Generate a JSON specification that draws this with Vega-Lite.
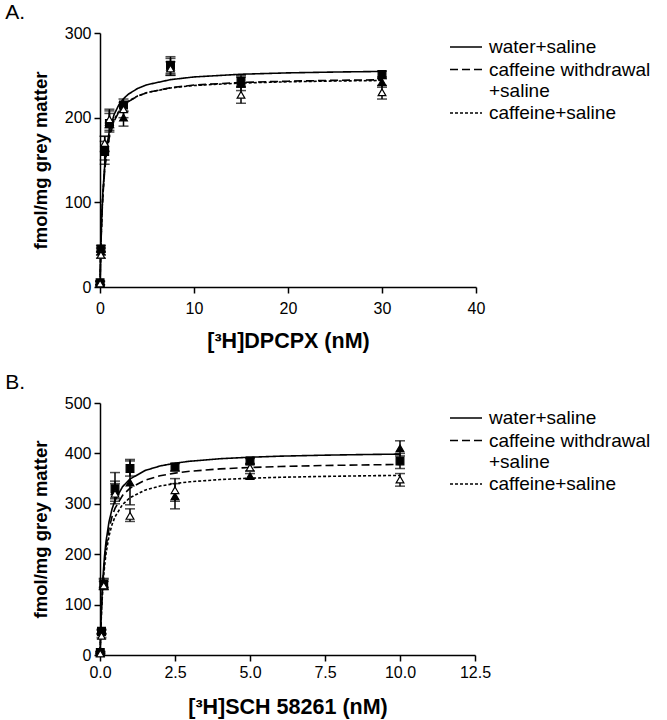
{
  "$schema": "https://vega.github.io/schema/vega-lite/v6.json",
  "padding": {"left": 5, "top": 2, "right": 5, "bottom": 2},
  "background": "white",
  "config": {
    "font": "Liberation Sans",
    "view": {"stroke": null},
    "axis": {"grid": false, "domainColor": "black", "domainWidth": 1.5, "tickColor": "black", "tickWidth": 1.5, "tickSize": 6, "labelColor": "black", "labelFontSize": 16, "labelFont": "Liberation Sans", "titleFont": "Liberation Sans", "titleFontSize": 18.5, "titleFontWeight": "bold", "titleColor": "black", "labelPadding": 3, "labelFlush": false},
    "axisX": {"titleFontSize": 21.5},
    "legend": {"labelFont": "Liberation Sans", "labelFontSize": 19, "labelColor": "black", "symbolType": "M-1.6,0L1.6,0", "symbolStrokeColor": "black", "symbolStrokeWidth": 1.5, "symbolSize": 400, "labelOffset": 12, "rowPadding": 1.5, "labelLimit": 300},
    "title": {"font": "Liberation Sans", "fontSize": 21, "fontWeight": "normal", "color": "black", "anchor": "start", "frame": "bounds"}
  },
  "datasets": {
    "ptsA": [
      {"x": 0.01, "grp": "water+saline", "v": 5, "lo": 3, "hi": 7},
      {"x": 0.1, "grp": "water+saline", "v": 45, "lo": 41, "hi": 49},
      {"x": 0.5, "grp": "water+saline", "v": 160, "lo": 150, "hi": 172},
      {"x": 1, "grp": "water+saline", "v": 193, "lo": 183, "hi": 205},
      {"x": 2.5, "grp": "water+saline", "v": 215, "lo": 207, "hi": 222},
      {"x": 7.5, "grp": "water+saline", "v": 262, "lo": 252, "hi": 272},
      {"x": 15, "grp": "water+saline", "v": 243, "lo": 236, "hi": 250},
      {"x": 30, "grp": "water+saline", "v": 251, "lo": 246, "hi": 255},
      {"x": 0.01, "grp": "caffeine withdrawal+saline", "v": 5, "lo": 3, "hi": 7},
      {"x": 0.1, "grp": "caffeine withdrawal+saline", "v": 42, "lo": 38, "hi": 46},
      {"x": 0.5, "grp": "caffeine withdrawal+saline", "v": 165, "lo": 145, "hi": 178},
      {"x": 1, "grp": "caffeine withdrawal+saline", "v": 195, "lo": 185, "hi": 210},
      {"x": 2.5, "grp": "caffeine withdrawal+saline", "v": 200, "lo": 190, "hi": 208},
      {"x": 7.5, "grp": "caffeine withdrawal+saline", "v": 260, "lo": 250, "hi": 270},
      {"x": 15, "grp": "caffeine withdrawal+saline", "v": 240, "lo": 232, "hi": 248},
      {"x": 30, "grp": "caffeine withdrawal+saline", "v": 242, "lo": 236, "hi": 248},
      {"x": 0.01, "grp": "caffeine+saline", "v": 4, "lo": 2, "hi": 6},
      {"x": 0.1, "grp": "caffeine+saline", "v": 38, "lo": 34, "hi": 42},
      {"x": 0.5, "grp": "caffeine+saline", "v": 170, "lo": 160, "hi": 178},
      {"x": 1, "grp": "caffeine+saline", "v": 198, "lo": 188, "hi": 208},
      {"x": 2.5, "grp": "caffeine+saline", "v": 210, "lo": 200, "hi": 218},
      {"x": 7.5, "grp": "caffeine+saline", "v": 258, "lo": 250, "hi": 266},
      {"x": 15, "grp": "caffeine+saline", "v": 227, "lo": 217, "hi": 237},
      {"x": 30, "grp": "caffeine+saline", "v": 230, "lo": 222, "hi": 238}
    ],
    "curveA": [
      {"x": 0, "group": "water+saline", "v": 0},
      {"x": 0.05, "group": "water+saline", "v": 28.7},
      {"x": 0.1, "group": "water+saline", "v": 51.6},
      {"x": 0.2, "group": "water+saline", "v": 86},
      {"x": 0.3, "group": "water+saline", "v": 110.6},
      {"x": 0.5, "group": "water+saline", "v": 143.3},
      {"x": 0.75, "group": "water+saline", "v": 168.3},
      {"x": 1, "group": "water+saline", "v": 184.3},
      {"x": 1.5, "group": "water+saline", "v": 203.7},
      {"x": 2, "group": "water+saline", "v": 215},
      {"x": 2.5, "group": "water+saline", "v": 222.4},
      {"x": 3, "group": "water+saline", "v": 227.6},
      {"x": 4, "group": "water+saline", "v": 234.5},
      {"x": 5, "group": "water+saline", "v": 238.9},
      {"x": 7.5, "group": "water+saline", "v": 244.9},
      {"x": 10, "group": "water+saline", "v": 248.1},
      {"x": 15, "group": "water+saline", "v": 251.3},
      {"x": 20, "group": "water+saline", "v": 252.9},
      {"x": 25, "group": "water+saline", "v": 253.9},
      {"x": 30, "group": "water+saline", "v": 254.6},
      {"x": 0, "group": "caffeine withdrawal+saline", "v": 0},
      {"x": 0.05, "group": "caffeine withdrawal+saline", "v": 27.6},
      {"x": 0.1, "group": "caffeine withdrawal+saline", "v": 49.6},
      {"x": 0.2, "group": "caffeine withdrawal+saline", "v": 82.7},
      {"x": 0.3, "group": "caffeine withdrawal+saline", "v": 106.3},
      {"x": 0.5, "group": "caffeine withdrawal+saline", "v": 137.8},
      {"x": 0.75, "group": "caffeine withdrawal+saline", "v": 161.7},
      {"x": 1, "group": "caffeine withdrawal+saline", "v": 177.1},
      {"x": 1.5, "group": "caffeine withdrawal+saline", "v": 195.8},
      {"x": 2, "group": "caffeine withdrawal+saline", "v": 206.7},
      {"x": 2.5, "group": "caffeine withdrawal+saline", "v": 213.8},
      {"x": 3, "group": "caffeine withdrawal+saline", "v": 218.8},
      {"x": 4, "group": "caffeine withdrawal+saline", "v": 225.5},
      {"x": 5, "group": "caffeine withdrawal+saline", "v": 229.6},
      {"x": 7.5, "group": "caffeine withdrawal+saline", "v": 235.4},
      {"x": 10, "group": "caffeine withdrawal+saline", "v": 238.5},
      {"x": 15, "group": "caffeine withdrawal+saline", "v": 241.6},
      {"x": 20, "group": "caffeine withdrawal+saline", "v": 243.1},
      {"x": 25, "group": "caffeine withdrawal+saline", "v": 244.1},
      {"x": 30, "group": "caffeine withdrawal+saline", "v": 244.7},
      {"x": 0, "group": "caffeine+saline", "v": 0},
      {"x": 0.05, "group": "caffeine+saline", "v": 28.7},
      {"x": 0.1, "group": "caffeine+saline", "v": 51.5},
      {"x": 0.2, "group": "caffeine+saline", "v": 85.2},
      {"x": 0.3, "group": "caffeine+saline", "v": 109},
      {"x": 0.5, "group": "caffeine+saline", "v": 140.3},
      {"x": 0.75, "group": "caffeine+saline", "v": 163.9},
      {"x": 1, "group": "caffeine+saline", "v": 179},
      {"x": 1.5, "group": "caffeine+saline", "v": 197.1},
      {"x": 2, "group": "caffeine+saline", "v": 207.6},
      {"x": 2.5, "group": "caffeine+saline", "v": 214.4},
      {"x": 3, "group": "caffeine+saline", "v": 219.2},
      {"x": 4, "group": "caffeine+saline", "v": 225.6},
      {"x": 5, "group": "caffeine+saline", "v": 229.6},
      {"x": 7.5, "group": "caffeine+saline", "v": 235.1},
      {"x": 10, "group": "caffeine+saline", "v": 238},
      {"x": 15, "group": "caffeine+saline", "v": 240.9},
      {"x": 20, "group": "caffeine+saline", "v": 242.4},
      {"x": 25, "group": "caffeine+saline", "v": 243.3},
      {"x": 30, "group": "caffeine+saline", "v": 243.9}
    ],
    "ptsB": [
      {"x": 0.01, "grp": "water+saline", "v": 5, "lo": 3, "hi": 7},
      {"x": 0.05, "grp": "water+saline", "v": 47, "lo": 43, "hi": 51},
      {"x": 0.125, "grp": "water+saline", "v": 140, "lo": 130, "hi": 152},
      {"x": 0.5, "grp": "water+saline", "v": 330, "lo": 310, "hi": 362},
      {"x": 1, "grp": "water+saline", "v": 370, "lo": 355, "hi": 388},
      {"x": 2.5, "grp": "water+saline", "v": 373, "lo": 365, "hi": 380},
      {"x": 5, "grp": "water+saline", "v": 385, "lo": 378, "hi": 390},
      {"x": 10, "grp": "water+saline", "v": 385, "lo": 370, "hi": 400},
      {"x": 0.01, "grp": "caffeine withdrawal+saline", "v": 5, "lo": 3, "hi": 7},
      {"x": 0.05, "grp": "caffeine withdrawal+saline", "v": 45, "lo": 41, "hi": 49},
      {"x": 0.125, "grp": "caffeine withdrawal+saline", "v": 142, "lo": 134, "hi": 150},
      {"x": 0.5, "grp": "caffeine withdrawal+saline", "v": 325, "lo": 300, "hi": 345},
      {"x": 1, "grp": "caffeine withdrawal+saline", "v": 342, "lo": 298, "hi": 385},
      {"x": 2.5, "grp": "caffeine withdrawal+saline", "v": 315, "lo": 290, "hi": 340},
      {"x": 5, "grp": "caffeine withdrawal+saline", "v": 355, "lo": 350, "hi": 360},
      {"x": 10, "grp": "caffeine withdrawal+saline", "v": 410, "lo": 395, "hi": 425},
      {"x": 0.01, "grp": "caffeine+saline", "v": 3, "lo": 1, "hi": 5},
      {"x": 0.05, "grp": "caffeine+saline", "v": 38, "lo": 34, "hi": 42},
      {"x": 0.125, "grp": "caffeine+saline", "v": 138, "lo": 130, "hi": 146},
      {"x": 0.5, "grp": "caffeine+saline", "v": 320, "lo": 305, "hi": 340},
      {"x": 1, "grp": "caffeine+saline", "v": 276, "lo": 265, "hi": 290},
      {"x": 2.5, "grp": "caffeine+saline", "v": 327, "lo": 305, "hi": 350},
      {"x": 5, "grp": "caffeine+saline", "v": 372, "lo": 365, "hi": 380},
      {"x": 10, "grp": "caffeine+saline", "v": 348, "lo": 335, "hi": 360}
    ],
    "curveB": [
      {"x": 0, "group": "water+saline", "v": 0},
      {"x": 0.05, "group": "water+saline", "v": 96.4},
      {"x": 0.1, "group": "water+saline", "v": 155.8},
      {"x": 0.15, "group": "water+saline", "v": 196},
      {"x": 0.2, "group": "water+saline", "v": 225},
      {"x": 0.3, "group": "water+saline", "v": 264.1},
      {"x": 0.4, "group": "water+saline", "v": 289.3},
      {"x": 0.5, "group": "water+saline", "v": 306.8},
      {"x": 0.75, "group": "water+saline", "v": 333.8},
      {"x": 1, "group": "water+saline", "v": 349.1},
      {"x": 1.5, "group": "water+saline", "v": 366},
      {"x": 2, "group": "water+saline", "v": 375},
      {"x": 2.5, "group": "water+saline", "v": 380.6},
      {"x": 3, "group": "water+saline", "v": 384.5},
      {"x": 4, "group": "water+saline", "v": 389.4},
      {"x": 5, "group": "water+saline", "v": 392.4},
      {"x": 6, "group": "water+saline", "v": 394.5},
      {"x": 7.5, "group": "water+saline", "v": 396.5},
      {"x": 9, "group": "water+saline", "v": 397.9},
      {"x": 10, "group": "water+saline", "v": 398.6},
      {"x": 0, "group": "caffeine withdrawal+saline", "v": 0},
      {"x": 0.05, "group": "caffeine withdrawal+saline", "v": 91.4},
      {"x": 0.1, "group": "caffeine withdrawal+saline", "v": 147.7},
      {"x": 0.15, "group": "caffeine withdrawal+saline", "v": 185.8},
      {"x": 0.2, "group": "caffeine withdrawal+saline", "v": 213.3},
      {"x": 0.3, "group": "caffeine withdrawal+saline", "v": 250.4},
      {"x": 0.4, "group": "caffeine withdrawal+saline", "v": 274.3},
      {"x": 0.5, "group": "caffeine withdrawal+saline", "v": 290.9},
      {"x": 0.75, "group": "caffeine withdrawal+saline", "v": 316.5},
      {"x": 1, "group": "caffeine withdrawal+saline", "v": 331},
      {"x": 1.5, "group": "caffeine withdrawal+saline", "v": 347},
      {"x": 2, "group": "caffeine withdrawal+saline", "v": 355.6},
      {"x": 2.5, "group": "caffeine withdrawal+saline", "v": 360.9},
      {"x": 3, "group": "caffeine withdrawal+saline", "v": 364.6},
      {"x": 4, "group": "caffeine withdrawal+saline", "v": 369.2},
      {"x": 5, "group": "caffeine withdrawal+saline", "v": 372.1},
      {"x": 6, "group": "caffeine withdrawal+saline", "v": 374},
      {"x": 7.5, "group": "caffeine withdrawal+saline", "v": 376},
      {"x": 9, "group": "caffeine withdrawal+saline", "v": 377.3},
      {"x": 10, "group": "caffeine withdrawal+saline", "v": 378},
      {"x": 0, "group": "caffeine+saline", "v": 0},
      {"x": 0.05, "group": "caffeine+saline", "v": 86.2},
      {"x": 0.1, "group": "caffeine+saline", "v": 139.2},
      {"x": 0.15, "group": "caffeine+saline", "v": 175.2},
      {"x": 0.2, "group": "caffeine+saline", "v": 201.1},
      {"x": 0.3, "group": "caffeine+saline", "v": 236.1},
      {"x": 0.4, "group": "caffeine+saline", "v": 258.6},
      {"x": 0.5, "group": "caffeine+saline", "v": 274.2},
      {"x": 0.75, "group": "caffeine+saline", "v": 298.4},
      {"x": 1, "group": "caffeine+saline", "v": 312.1},
      {"x": 1.5, "group": "caffeine+saline", "v": 327.1},
      {"x": 2, "group": "caffeine+saline", "v": 335.2},
      {"x": 2.5, "group": "caffeine+saline", "v": 340.2},
      {"x": 3, "group": "caffeine+saline", "v": 343.7},
      {"x": 4, "group": "caffeine+saline", "v": 348.1},
      {"x": 5, "group": "caffeine+saline", "v": 350.8},
      {"x": 6, "group": "caffeine+saline", "v": 352.6},
      {"x": 7.5, "group": "caffeine+saline", "v": 354.4},
      {"x": 9, "group": "caffeine+saline", "v": 355.7},
      {"x": 10, "group": "caffeine+saline", "v": 356.3}
    ]
  },
  "resolve": {"scale": {"strokeDash": "independent", "shape": "independent", "fill": "independent"}, "legend": {"strokeDash": "independent"}},
  "spacing": 20,
  "vconcat": [
    {
      "title": {"text": "A.", "dx": -26, "offset": 2},
      "width": 376,
      "height": 254,
      "layer": [
        {
          "data": {"name": "ptsA"},
          "mark": {"type": "errorbar", "ticks": {"size": 10}, "color": "black", "thickness": 1.5},
          "encoding": {
            "x": {"field": "x", "type": "quantitative", "scale": {"domain": [0, 40], "nice": false}, "axis": {"values": [0, 10, 20, 30, 40], "title": "[³H]DPCPX (nM)", "titlePadding": 14, "labelPadding": 7}},
            "y": {"field": "lo", "type": "quantitative", "scale": {"domain": [0, 300], "nice": false}, "axis": {"values": [0, 100, 200, 300], "title": "fmol/mg grey matter", "titlePadding": 14}},
            "y2": {"field": "hi"}
          }
        },
        {
          "data": {"name": "curveA"},
          "mark": {"type": "line", "color": "black", "strokeWidth": 1.6},
          "encoding": {
            "x": {"field": "x", "type": "quantitative"},
            "y": {"field": "v", "type": "quantitative"},
            "strokeDash": {"field": "group", "type": "nominal",
              "scale": {"domain": ["water+saline", "caffeine withdrawal+saline", "caffeine+saline"], "range": [[1, 0], [8, 4], [3, 2]]},
              "legend": {"orient": "none", "legendX": 355, "legendY": 3, "title": null,
                "labelExpr": "datum.label == 'caffeine withdrawal+saline' ? ['caffeine withdrawal', '+saline'] : datum.label"}}
          }
        },
        {
          "data": {"name": "ptsA"},
          "mark": {"type": "point", "filled": false, "stroke": "black", "strokeWidth": 1.2, "size": 60, "opacity": 1},
          "encoding": {
            "x": {"field": "x", "type": "quantitative"},
            "y": {"field": "v", "type": "quantitative"},
            "shape": {"field": "grp", "type": "nominal", "scale": {"range": ["triangle-up", "triangle-up", "square"]}, "legend": null},
            "fill": {"field": "grp", "type": "nominal", "scale": {"range": ["black", "white", "black"]}, "legend": null}
          }
        }
      ]
    },
    {
      "title": {"text": "B.", "dx": -26, "offset": 2},
      "width": 375,
      "height": 252,
      "layer": [
        {
          "data": {"name": "ptsB"},
          "mark": {"type": "errorbar", "ticks": {"size": 10}, "color": "black", "thickness": 1.5},
          "encoding": {
            "x": {"field": "x", "type": "quantitative", "scale": {"domain": [0, 12.5], "nice": false}, "axis": {"values": [0, 2.5, 5, 7.5, 10, 12.5], "format": ".1f", "title": "[³H]SCH 58261 (nM)", "titlePadding": 16, "labelPadding": 3}},
            "y": {"field": "lo", "type": "quantitative", "scale": {"domain": [0, 500], "nice": false}, "axis": {"values": [0, 100, 200, 300, 400, 500], "title": "fmol/mg grey matter", "titlePadding": 14}},
            "y2": {"field": "hi"}
          }
        },
        {
          "data": {"name": "curveB"},
          "mark": {"type": "line", "color": "black", "strokeWidth": 1.6},
          "encoding": {
            "x": {"field": "x", "type": "quantitative"},
            "y": {"field": "v", "type": "quantitative"},
            "strokeDash": {"field": "group", "type": "nominal",
              "scale": {"domain": ["water+saline", "caffeine withdrawal+saline", "caffeine+saline"], "range": [[1, 0], [8, 4], [3, 2]]},
              "legend": {"orient": "none", "legendX": 355, "legendY": 4, "title": null,
                "labelExpr": "datum.label == 'caffeine withdrawal+saline' ? ['caffeine withdrawal', '+saline'] : datum.label"}}
          }
        },
        {
          "data": {"name": "ptsB"},
          "mark": {"type": "point", "filled": false, "stroke": "black", "strokeWidth": 1.2, "size": 60, "opacity": 1},
          "encoding": {
            "x": {"field": "x", "type": "quantitative"},
            "y": {"field": "v", "type": "quantitative"},
            "shape": {"field": "grp", "type": "nominal", "scale": {"range": ["triangle-up", "triangle-up", "square"]}, "legend": null},
            "fill": {"field": "grp", "type": "nominal", "scale": {"range": ["black", "white", "black"]}, "legend": null}
          }
        }
      ]
    }
  ]
}
